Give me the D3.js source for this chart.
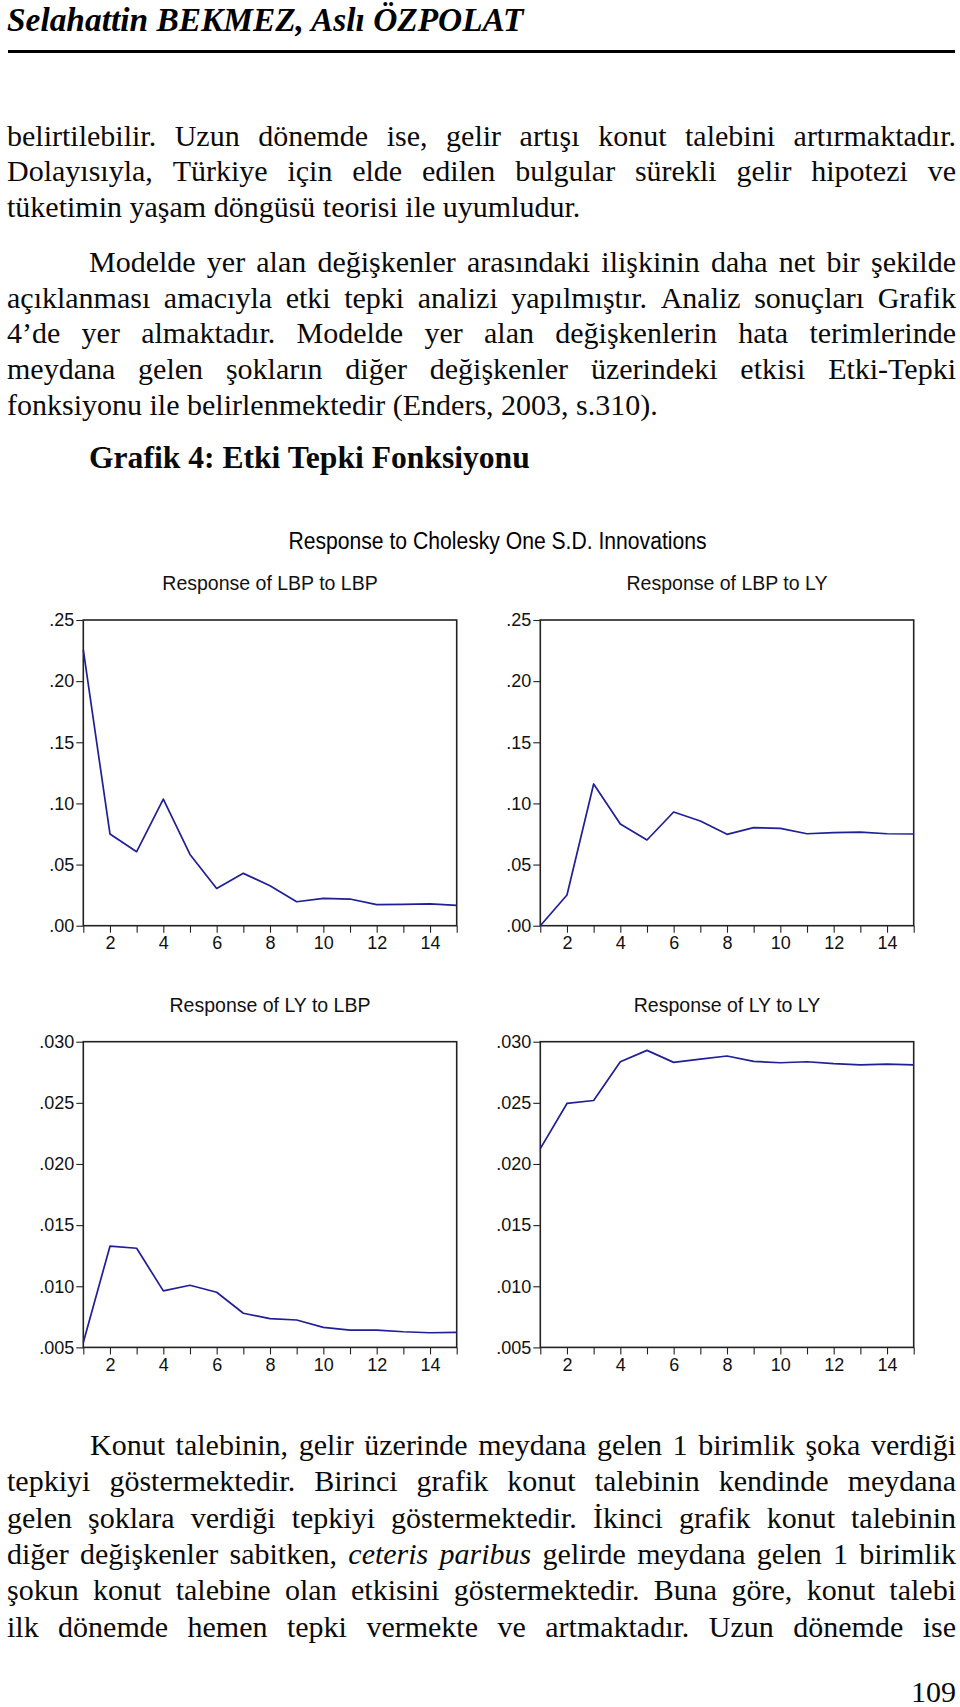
<!DOCTYPE html>
<html><head><meta charset="utf-8">
<script src="https://cdn.jsdelivr.net/npm/d3@7"></script>
<style>
html,body{margin:0;padding:0;background:#fff;}
svg{display:block;}
</style></head><body>
<svg id="page" width="960" height="1707"></svg>
<script>
// ---------- chart data ----------
const periods = [1,2,3,4,5,6,7,8,9,10,11,12,13,14,15];
const xTickLabels = [2,4,6,8,10,12,14];

const lbpToLbp = [0.2255,0.0750,0.0605,0.1036,0.0583,0.0305,0.0428,0.0327,0.0196,0.0224,0.0218,0.0172,0.0174,0.0178,0.0166];
const lbpToLy  = [0.0000,0.0251,0.1159,0.0832,0.0701,0.0930,0.0856,0.0747,0.0802,0.0796,0.0752,0.0761,0.0766,0.0752,0.0750];
const lyToLbp  = [0.0054,0.01328,0.01311,0.00962,0.01008,0.00951,0.00779,0.00735,0.00724,0.00664,0.00642,0.00642,0.00628,0.00620,0.00623];
const lyToLy   = [0.02126,0.02495,0.02519,0.02836,0.02929,0.02831,0.02858,0.02883,0.02839,0.02828,0.02836,0.02820,0.02811,0.02817,0.02811];

const yTicksTop = [0, 0.05, 0.10, 0.15, 0.20, 0.25];
const yLabelsTop = [".00", ".05", ".10", ".15", ".20", ".25"];
const yTicksBottom = [0.005, 0.010, 0.015, 0.020, 0.025, 0.030];
const yLabelsBottom = [".005", ".010", ".015", ".020", ".025", ".030"];

const panelTitles = ["Response of LBP to LBP", "Response of LBP to LY", "Response of LY to LBP", "Response of LY to LY"];
const mainTitle = "Response to Cholesky One S.D. Innovations";

// ---------- page text ----------
const headerText = "Selahattin BEKMEZ, Aslı ÖZPOLAT";
const para1 = [
  "belirtilebilir. Uzun dönemde ise, gelir artışı konut talebini artırmaktadır.",
  "Dolayısıyla, Türkiye için elde edilen bulgular sürekli gelir hipotezi ve",
  "tüketimin yaşam döngüsü teorisi ile uyumludur."
];
const para2 = [
  "Modelde yer alan değişkenler arasındaki ilişkinin daha net bir şekilde",
  "açıklanması amacıyla etki tepki analizi yapılmıştır. Analiz sonuçları Grafik",
  "4’de yer almaktadır. Modelde yer alan değişkenlerin hata terimlerinde",
  "meydana gelen şokların diğer değişkenler üzerindeki etkisi Etki-Tepki",
  "fonksiyonu ile belirlenmektedir (Enders, 2003, s.310)."
];
const figureHeading = "Grafik 4: Etki Tepki Fonksiyonu";
const para3 = [
  "Konut talebinin, gelir üzerinde meydana gelen 1 birimlik şoka verdiği",
  "tepkiyi göstermektedir. Birinci grafik konut talebinin kendinde meydana",
  "gelen şoklara verdiği tepkiyi göstermektedir. İkinci grafik konut talebinin",
  "diğer değişkenler sabitken, ceteris paribus gelirde meydana gelen 1 birimlik",
  "şokun konut talebine olan etkisini göstermektedir. Buna göre, konut talebi",
  "ilk dönemde hemen tepki vermekte ve artmaktadır. Uzun dönemde ise"
];
const italicWords = ["ceteris", "paribus"];
const pageNumber = "109";

// ---------- drawing ----------
const svg = d3.select("#page");
const SERIF = "'Liberation Serif','Times New Roman',serif";
const SANS = "'Liberation Sans',Arial,Helvetica,sans-serif";
const BODY = 30;
const LM = 7, RM = 956;

// header
svg.append("text").attr("x", 7).attr("y", 31)
  .attr("font-family", SERIF).attr("font-size", 33.4)
  .attr("font-weight", "bold").attr("font-style", "italic")
  .attr("fill", "#000").text(headerText);
svg.append("rect").attr("x", 8).attr("y", 50).attr("width", 947).attr("height", 3).attr("fill", "#000");

function textLine(str, x0, x1, yb, justify, opts = {}) {
  const words = str.split(" ");
  const g = svg.append("g").attr("font-family", SERIF).attr("font-size", opts.size || BODY)
    .attr("font-weight", opts.weight || "normal").attr("fill", "#0a0a0a");
  const nodes = words.map(w => {
    const it = italicWords.includes(w.replace(/[.,]/g, ""));
    return g.append("text").attr("y", yb).attr("font-style", it ? "italic" : null).text(w);
  });
  const widths = nodes.map(n => n.node().getComputedTextLength());
  const total = d3.sum(widths);
  const gap = (justify && words.length > 1) ? (x1 - x0 - total) / (words.length - 1) : (opts.size || BODY) * 0.25;
  let x = x0;
  nodes.forEach((n, i) => { n.attr("x", x); x += widths[i] + gap; });
}

function paragraph(lines, firstX, y0, lh, lastJustified) {
  lines.forEach((l, i) => {
    const just = i < lines.length - 1 || lastJustified;
    textLine(l, i === 0 ? firstX : LM, RM, y0 + i * lh, just);
  });
}

paragraph(para1, LM, 145.7, 35.5, false);
paragraph(para2, 89, 271.7, 35.8, false);
svg.append("text").attr("x", 89).attr("y", 468.3)
  .attr("font-family", SERIF).attr("font-size", 31.6).attr("font-weight", "bold")
  .attr("fill", "#0a0a0a").text(figureHeading);
paragraph(para3, 90, 1455, 36.3, true);
svg.append("text").attr("x", RM).attr("y", 1702).attr("text-anchor", "end")
  .attr("font-family", SERIF).attr("font-size", BODY).attr("fill", "#0a0a0a").text(pageNumber);

// charts
const PW = 373.4, PH = 305.7;
svg.append("text").attr("x", 497.5).attr("y", 549).attr("text-anchor", "middle")
  .attr("font-family", SANS).attr("font-size", 23).attr("fill", "#000")
  .attr("textLength", 418).attr("lengthAdjust", "spacingAndGlyphs").text(mainTitle);

function panel(left, top, values, yDomain, yTicks, yLabels, title) {
  const g = svg.append("g");
  const x = d3.scaleLinear().domain([1, 15]).range([left, left + PW]);
  const y = d3.scaleLinear().domain(yDomain).range([top + PH, top]);

  const ya = d3.axisLeft(y).tickValues(yTicks).tickFormat((d, i) => yLabels[i])
    .tickSize(7).tickPadding(2).tickSizeOuter(0);
  const yg = g.append("g").attr("transform", `translate(${left},0)`).call(ya);

  const xa = d3.axisBottom(x).tickValues(periods)
    .tickFormat(d => xTickLabels.includes(d) ? String(d) : "")
    .tickSize(7).tickPadding(4).tickSizeOuter(0);
  const xg = g.append("g").attr("transform", `translate(0,${top + PH})`).call(xa);

  [yg, xg].forEach(a => {
    a.select(".domain").remove();
    a.selectAll("line").attr("stroke", "#222").attr("stroke-width", 1.1);
    a.selectAll("text").attr("font-family", SANS).attr("font-size", 18).attr("fill", "#111");
  });

  g.append("rect").attr("x", left).attr("y", top).attr("width", PW).attr("height", PH)
    .attr("fill", "none").attr("stroke", "#222").attr("stroke-width", 1.6);

  g.append("path").datum(values)
    .attr("fill", "none").attr("stroke", "#1f1f96").attr("stroke-width", 1.7)
    .attr("stroke-linejoin", "round")
    .attr("d", d3.line().x((d, i) => x(periods[i])).y(d => y(d)));

  g.append("text").attr("x", left + PW / 2).attr("y", top - 30).attr("text-anchor", "middle")
    .attr("font-family", SANS).attr("font-size", 19.5).attr("fill", "#111").text(title);
}

panel(83.3, 620, lbpToLbp, [0, 0.25], yTicksTop, yLabelsTop, panelTitles[0]);
panel(540.3, 620, lbpToLy, [0, 0.25], yTicksTop, yLabelsTop, panelTitles[1]);
panel(83.3, 1041.7, lyToLbp, [0.005, 0.030], yTicksBottom, yLabelsBottom, panelTitles[2]);
panel(540.3, 1041.7, lyToLy, [0.005, 0.030], yTicksBottom, yLabelsBottom, panelTitles[3]);
</script>
</body></html>
